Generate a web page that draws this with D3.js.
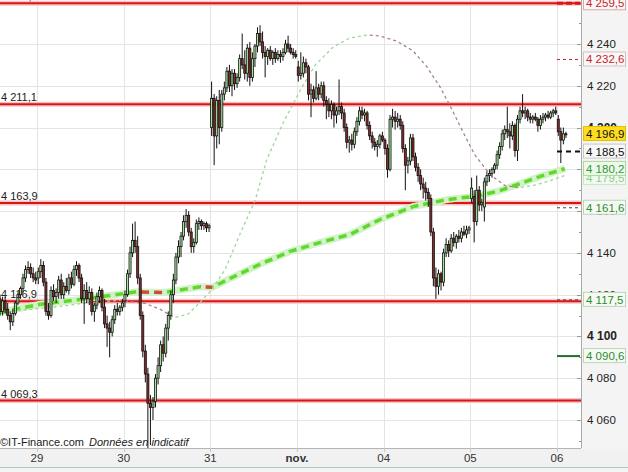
<!DOCTYPE html>
<meta charset="utf-8">
<style>
body { margin: 0; background: #f4f4f4; }
text { font-family: "Liberation Sans", Arial, sans-serif; }
</style>
<body>
<div id="chart"></div>
</body>
<script src="https://cdn.jsdelivr.net/npm/d3@7"></script>
<script>

// 15 min candles, [open, high, low, close], one array per session
var oct28 = [ // first visible slot is 19
  [4118,4120,4110,4112],[4112,4119,4110,4117],[4117,4119,4111,4113],[4113,4116,4108,4110],
  [4110,4112,4103,4107],[4107,4113,4105,4111],[4111,4117,4110,4116],[4116,4121,4115,4120],
  [4120,4124,4118,4123],[4123,4130,4121,4128],[4128,4134,4126,4132],[4132,4136,4130,4133],
  [4133,4135,4128,4130],[4130,4133,4126,4128],[4128,4131,4125,4127]];
var oct29 = [
  [4128,4133,4125,4131],[4131,4137,4128,4134],[4134,4136,4124,4126],[4126,4128,4110,4112],
  [4112,4116,4108,4110],[4110,4124,4109,4122],[4122,4125,4117,4119],[4119,4123,4116,4121],
  [4121,4129,4118,4127],[4127,4130,4118,4120],[4120,4126,4118,4124],[4124,4128,4121,4122],
  [4122,4130,4120,4128],[4128,4131,4123,4125],[4125,4134,4124,4132],[4132,4136,4129,4134],
  [4134,4135,4126,4128],[4128,4130,4116,4118],[4118,4125,4106,4122],[4122,4126,4116,4118],
  [4118,4124,4115,4121],[4121,4123,4110,4112],[4112,4116,4107,4115],[4115,4121,4113,4119],
  [4119,4124,4116,4122],[4122,4123,4112,4114],[4114,4118,4104,4106],[4106,4110,4095,4104],
  [4104,4107,4090,4102],[4102,4110,4100,4108],[4108,4115,4106,4113],[4113,4116,4110,4112],
  [4112,4115,4110,4114],[4114,4118,4112,4116]];
var oct30 = [
  [4117,4122,4114,4120],[4120,4132,4119,4130],[4130,4143,4128,4140],[4140,4154,4138,4146],
  [4146,4155,4140,4143],[4143,4148,4125,4128],[4128,4130,4108,4110],[4110,4112,4090,4093],
  [4093,4096,4078,4082],[4082,4085,4046,4068],[4068,4072,4048,4066],[4066,4071,4060,4069],
  [4069,4082,4066,4080],[4080,4090,4077,4086],[4086,4098,4083,4096],[4096,4100,4088,4092],
  [4092,4106,4090,4104],[4104,4112,4098,4110],[4110,4122,4108,4120],[4120,4130,4116,4127],
  [4127,4140,4125,4138],[4138,4146,4135,4143],[4143,4150,4138,4148],[4148,4158,4146,4155],
  [4155,4161,4152,4158],[4158,4160,4148,4150],[4150,4152,4140,4143],[4143,4147,4140,4145],
  [4145,4156,4144,4154],[4154,4157,4151,4155],[4155,4156,4151,4153],[4153,4155,4151,4154],
  [4154,4155,4150,4152],[4152,4154,4150,4153]];
var oct31 = [
  [4200,4222,4196,4214],[4214,4216,4182,4196],[4196,4215,4190,4213],[4213,4218,4192,4200],
  [4200,4218,4198,4216],[4216,4222,4213,4219],[4219,4229,4217,4227],[4227,4230,4217,4220],
  [4220,4228,4215,4226],[4226,4228,4218,4221],[4221,4226,4219,4224],[4224,4235,4222,4233],
  [4233,4245,4228,4230],[4230,4237,4223,4226],[4226,4240,4222,4238],[4238,4241,4220,4224],
  [4224,4236,4222,4233],[4233,4240,4229,4239],[4239,4248,4236,4245],[4245,4249,4239,4241],
  [4241,4246,4233,4236],[4236,4239,4224,4234],[4234,4238,4230,4237],[4237,4239,4232,4233],
  [4233,4237,4230,4236],[4236,4238,4231,4233],[4233,4237,4232,4235],[4235,4237,4231,4234],
  [4234,4238,4232,4236],[4236,4242,4235,4240],[4240,4244,4236,4238],[4238,4240,4235,4236],
  [4236,4238,4233,4235],[4235,4237,4233,4234]];
var nov01 = [
  [4229,4232,4222,4225],[4225,4236,4223,4226],[4226,4234,4224,4231],[4231,4233,4226,4229],
  [4229,4230,4213,4216],[4216,4221,4205,4218],[4218,4220,4212,4214],[4214,4227,4213,4219],
  [4219,4221,4213,4216],[4216,4222,4214,4220],[4220,4222,4210,4213],[4213,4215,4204,4211],
  [4211,4214,4205,4208],[4208,4213,4204,4211],[4211,4212,4200,4206],[4206,4210,4202,4208],
  [4208,4223,4206,4210],[4210,4212,4204,4207],[4207,4209,4198,4200],[4200,4202,4190,4193],
  [4193,4196,4188,4194],[4194,4197,4189,4192],[4192,4200,4190,4198],[4198,4205,4196,4203],
  [4203,4210,4201,4208],[4208,4210,4204,4206],[4206,4209,4203,4207],[4207,4208,4199,4201],
  [4201,4203,4194,4196],[4196,4198,4190,4193],[4193,4195,4189,4191],[4191,4194,4186,4192],
  [4192,4197,4190,4196],[4196,4198,4193,4194]];
var nov04 = [
  [4194,4195,4187,4190],[4190,4192,4176,4180],[4180,4206,4179,4204],[4204,4209,4200,4205],
  [4205,4208,4199,4203],[4203,4207,4200,4204],[4204,4206,4199,4201],[4201,4203,4188,4190],
  [4190,4192,4170,4182],[4182,4186,4178,4184],[4184,4197,4182,4195],[4195,4197,4184,4186],
  [4186,4188,4179,4181],[4181,4183,4174,4177],[4177,4180,4170,4173],[4173,4176,4166,4171],
  [4171,4174,4165,4169],[4169,4171,4162,4166],[4166,4168,4148,4150],[4150,4152,4124,4128],
  [4128,4133,4118,4124],[4124,4132,4120,4130],[4130,4131,4122,4126],[4126,4142,4124,4140],
  [4140,4147,4138,4144],[4144,4146,4138,4141],[4141,4149,4140,4147],[4147,4150,4143,4145],
  [4145,4149,4142,4148],[4148,4151,4145,4147],[4147,4152,4145,4150],[4150,4153,4148,4149],
  [4149,4153,4147,4151],[4151,4153,4149,4152]];
var nov05 = [
  [4166,4176,4164,4171],[4167,4170,4145,4155],[4155,4177,4153,4170],[4170,4172,4160,4163],
  [4163,4166,4160,4164],[4162,4176,4155,4174],[4174,4179,4172,4177],[4177,4180,4174,4178],
  [4178,4181,4176,4180],[4180,4183,4178,4182],[4182,4189,4180,4187],[4187,4193,4185,4191],
  [4191,4199,4189,4197],[4197,4201,4194,4199],[4199,4210,4195,4198],[4198,4202,4190,4196],
  [4196,4203,4194,4201],[4201,4202,4186,4189],[4189,4206,4184,4204],[4204,4210,4202,4208],
  [4208,4216,4205,4207],[4207,4210,4204,4208],[4208,4209,4203,4205],[4205,4207,4202,4204],
  [4204,4206,4202,4205],[4205,4207,4203,4204],[4204,4205,4198,4201],[4201,4206,4199,4204],
  [4204,4207,4202,4205],[4205,4207,4203,4206],[4206,4208,4204,4205],[4205,4208,4204,4207],
  [4207,4209,4205,4208],[4208,4210,4206,4207]];
var nov06 = [
  [4204,4206,4196,4198],[4198,4200,4183,4194],[4194,4200,4192,4197],[4197,4198,4195,4196.9]];

var sessions = [oct28, oct29, oct30, oct31, nov01, nov04, nov05, nov06];
var sessionFirstSlot = [19, 0, 0, 0, 0, 0, 0, 0];
var dayLabels = ["29", "30", "31", "nov.", "04", "05", "06"];

// short moving average (session time, value)
var maShortT = [0.57,0.92,1.27,1.61,1.96,2.25,2.42,2.59,2.74,2.88,3.02,3.17,3.34,3.52,3.65,3.84,4.04,4.21,
  4.42,4.61,4.81,4.96,5.15,5.34,5.50,5.65,5.79,5.92,6.05,6.23,6.40,6.57,6.77,6.92,7.09];
var maShortV = [4111.5,4113,4114.4,4116.3,4117.3,4115.8,4113,4109,4110.6,4116.3,4122.5,4132,4148.8,4165.5,
  4184.6,4202.3,4218,4230,4238.6,4242.9,4244.3,4243.8,4241.4,4236.7,4229,4219.5,4208.5,4197.5,4187,4177.4,
  4172.2,4171.2,4172.7,4174.6,4177];
// long moving average
var maLongT = [0.57,0.80,1.04,1.50,1.84,2.15,2.45,2.71,2.88,3.02,3.23,3.57,3.92,4.27,4.61,4.96,5.34,5.73,
  6.11,6.34,6.57,6.80,7.09];
var maLongV = [4111.5,4113.5,4115.4,4117.7,4119.6,4121.4,4121.0,4122.6,4123.8,4123.5,4127.8,4134.5,4140.7,
  4145,4148.8,4156,4162.2,4165.5,4167.4,4169.8,4173.1,4176.5,4180.3];

var levels = [4259.5, 4211.1, 4163.9, 4116.9, 4069.3];
var yTicks = [4060, 4080, 4100, 4120, 4140, 4160, 4180, 4200, 4220, 4240, 4260];

var markValues = [4259.5, 4232.6, 4196.9, 4188.5, 4180.2, 4179.5, 4161.6, 4117.5, 4090.6];
var markKinds = ["resist", "target", "last", "pivot", "maLong", "maShort", "support", "support", "stop"];

var width = 628, height = 472,
    plotRight = 581, plotBottom = 448,
    slotsPerDay = 34;

var fr = d3.formatLocale({decimal: ",", thousands: " ", grouping: [3], currency: ["", " €"]});
var fmt1 = fr.format(",.1f"), fmt0 = fr.format(",d");

var x = d3.scaleLinear().domain([1, 7]).range([37, 557]);
var y = d3.scaleLinear().domain([4060, 4240]).range([420, 44]);
var step = x(1) - x(1 - 1 / slotsPerDay);

var candles = [];
sessions.forEach(function(s, d) {
  s.forEach(function(c, i) {
    candles.push({t: d + (sessionFirstSlot[d] + i + 0.5) / slotsPerDay, o: c[0], h: c[1], l: c[2], c: c[3]});
  });
});

var svg = d3.select("#chart").append("svg")
    .attr("width", width)
    .attr("height", height);

svg.append("defs").append("clipPath").attr("id", "plot")
  .append("rect").attr("width", plotRight).attr("height", plotBottom);

svg.append("rect").attr("width", plotRight).attr("height", plotBottom).attr("fill", "#fff");

var plot = svg.append("g").attr("clip-path", "url(#plot)");

// grid
plot.selectAll(".hgrid").data(yTicks).enter().append("line")
    .attr("x1", 0).attr("x2", plotRight)
    .attr("y1", function(d) { return Math.round(y(d)) + 0.5; })
    .attr("y2", function(d) { return Math.round(y(d)) + 0.5; })
    .attr("stroke", "#e4e4e4");
plot.selectAll(".vgrid").data(d3.range(1, 8)).enter().append("line")
    .attr("y1", 0).attr("y2", plotBottom)
    .attr("x1", function(d) { return Math.round(x(d)) + 0.5; })
    .attr("x2", function(d) { return Math.round(x(d)) + 0.5; })
    .attr("stroke", "#e4e4e4");

// copyright
var copy = plot.append("text").attr("x", 0).attr("y", 446)
    .style("font-size", "11px").attr("fill", "#222");
copy.append("tspan").text("\u00a9IT-Finance.com");
copy.append("tspan").attr("x", 89).style("font-style", "italic").text("Données en indicatif");

// support / resistance lines
plot.selectAll(".lvlhalo").data(levels).enter().append("line")
    .attr("x1", 0).attr("x2", plotRight)
    .attr("y1", function(d) { return y(d); }).attr("y2", function(d) { return y(d); })
    .attr("stroke", "#f5c4c4").attr("stroke-width", 5);
plot.selectAll(".lvl").data(levels).enter().append("line")
    .attr("x1", 0).attr("x2", plotRight)
    .attr("y1", function(d) { return y(d); }).attr("y2", function(d) { return y(d); })
    .attr("stroke", "#dd1414").attr("stroke-width", 2);

// dashed line coloured by slope, dash pattern kept continuous across segments
function slopeLine(g, ts, vs, upColor, downColor, w, dash) {
  var line = d3.line().x(function(p) { return x(p[0]); }).y(function(p) { return y(p[1]); });
  var offset = 0;
  for (var i = 1; i < ts.length; i++) {
    var a = [ts[i - 1], vs[i - 1]], b = [ts[i], vs[i]];
    g.append("path")
        .attr("d", line([a, b]))
        .attr("fill", "none")
        .attr("stroke", b[1] >= a[1] ? upColor : downColor)
        .attr("stroke-width", w)
        .attr("stroke-dasharray", dash)
        .attr("stroke-dashoffset", offset);
    offset += Math.hypot(x(b[0]) - x(a[0]), y(b[1]) - y(a[1]));
  }
}

var longPts = maLongT.map(function(t, i) { return [t, maLongV[i]]; });
plot.append("path")
    .attr("d", d3.line().x(function(p) { return x(p[0]); }).y(function(p) { return y(p[1]); })(longPts))
    .attr("fill", "none").attr("stroke", "#d2f2c8").attr("stroke-width", 7);
slopeLine(plot, maLongT, maLongV, "#5ed82a", "#d24a3a", 3.5, "8,5");
slopeLine(plot, maShortT, maShortV, "#9ad89a", "#a8808c", 1.3, "3,3");

// candles
var cg = plot.selectAll(".candle").data(candles).enter().append("g");
cg.append("line")
    .attr("x1", function(d) { return x(d.t); }).attr("x2", function(d) { return x(d.t); })
    .attr("y1", function(d) { return y(d.h); }).attr("y2", function(d) { return y(d.l); })
    .attr("stroke", "#111").attr("stroke-width", 1);
cg.append("rect")
    .attr("x", function(d) { return x(d.t) - step * 0.4; })
    .attr("width", step * 0.8)
    .attr("y", function(d) { return y(Math.max(d.o, d.c)); })
    .attr("height", function(d) { return Math.max(1, Math.abs(y(d.o) - y(d.c))); })
    .attr("fill", function(d) { return d.c >= d.o ? "#a8e6a0" : "#8a2a2a"; })
    .attr("stroke", "#111").attr("stroke-width", 0.8);

// level labels on the left
plot.selectAll(".lvltxt").data(levels).enter().append("text")
    .attr("x", 1).attr("y", function(d) { return y(d) - 3; })
    .style("font-size", "11px").attr("fill", "#222")
    .text(function(d) { return fmt1(d); });

// plot frame
svg.append("line").attr("x1", 0).attr("x2", plotRight).attr("y1", plotBottom + 0.5).attr("y2", plotBottom + 0.5)
    .attr("stroke", "#b4b4b4");
svg.append("line").attr("x1", plotRight + 0.5).attr("x2", plotRight + 0.5).attr("y1", 0).attr("y2", plotBottom)
    .attr("stroke", "#a8a8a8");

// x axis band
svg.append("rect").attr("x", 0).attr("y", plotBottom + 1).attr("width", width).attr("height", 18).attr("fill", "#f1f1f1");
svg.append("line").attr("x1", 0).attr("x2", width).attr("y1", 467.5).attr("y2", 467.5).attr("stroke", "#a9c9ba");
svg.selectAll(".xtick").data(d3.range(1, 8)).enter().append("line")
    .attr("x1", function(d) { return Math.round(x(d)) + 0.5; })
    .attr("x2", function(d) { return Math.round(x(d)) + 0.5; })
    .attr("y1", plotBottom).attr("y2", plotBottom + 4).attr("stroke", "#c8c8c8");
svg.selectAll(".xlab").data(d3.range(1, 8)).enter().append("text")
    .attr("x", function(d) { return x(d); }).attr("y", 462)
    .attr("text-anchor", "middle")
    .style("font-size", "11.5px")
    .style("font-weight", function(d, i) { return dayLabels[i] === "nov." ? "bold" : "normal"; })
    .attr("fill", "#333")
    .text(function(d, i) { return dayLabels[i]; });

// y axis (right)
var minor = d3.range(4050, 4270, 10);
svg.selectAll(".ytick").data(minor).enter().append("line")
    .attr("x1", function(d) { return d % 20 === 0 ? plotRight - 4 : plotRight - 2; })
    .attr("x2", plotRight)
    .attr("y1", function(d) { return Math.round(y(d)) + 0.5; })
    .attr("y2", function(d) { return Math.round(y(d)) + 0.5; })
    .attr("stroke", "#999");
svg.selectAll(".ylab").data(yTicks).enter().append("text")
    .attr("x", 587).attr("y", function(d) { return y(d) + 4; })
    .style("font-size", function(d) { return d % 100 === 0 ? "12px" : "11.5px"; })
    .style("font-weight", function(d) { return d % 100 === 0 ? "bold" : "normal"; })
    .attr("fill", "#222")
    .text(function(d) { return fmt0(d); });

// value markers on the right
var markStyle = {
  resist:  {text: "#cc2222", fill: "#f8f8f8", border: "#dca8a8", line: "#dd1414", lw: 3, dash: "6,3"},
  target:  {text: "#cc2222", fill: "#f8f8f8", border: "#d8c0c0", line: "#cc2222", lw: 1, dash: "3,3"},
  last:    {text: "#111",    fill: "#ffdc1e", border: "#e0c000", line: null},
  pivot:   {text: "#111",    fill: "#f8f8f8", border: "#c8c8c8", line: "#111", lw: 2, dash: "5,4"},
  maLong:  {text: "#2f9a2f", fill: "#eef8ec", border: "#a8d8a0", line: null},
  maShort: {text: "#8ccc8c", fill: "#f2faf0", border: "#c8e8c0", line: null},
  support: {text: "#2f8a2f", fill: "#f6faf4", border: "#b8d8b8", line: "#444", lw: 1, dash: "3,3"},
  stop:    {text: "#2f8a2f", fill: "#f6faf4", border: "#b8d8b8", line: "#2c6a2c", lw: 2, dash: null}
};

var marks = markValues.map(function(v, i) { return {v: v, kind: markKinds[i], y: y(v)}; });
// push overlapping labels down
for (var i = 1; i < marks.length; i++) {
  if (marks[i].y < marks[i - 1].y + 9) marks[i].y = marks[i - 1].y + 9;
}

var mg = svg.selectAll(".mark").data(marks.slice().reverse()).enter().append("g");
mg.filter(function(d) { return markStyle[d.kind].line; }).append("line")
    .attr("x1", 557).attr("x2", plotRight - 1)
    .attr("y1", function(d) { return y(d.v); }).attr("y2", function(d) { return y(d.v); })
    .attr("stroke", function(d) { return markStyle[d.kind].line; })
    .attr("stroke-width", function(d) { return markStyle[d.kind].lw; })
    .attr("stroke-dasharray", function(d) { return markStyle[d.kind].dash; });
mg.append("rect")
    .attr("x", 583.5).attr("width", 42).attr("height", 14)
    .attr("y", function(d) { return d.y - 7.5; })
    .attr("fill", function(d) { return markStyle[d.kind].fill; })
    .attr("stroke", function(d) { return markStyle[d.kind].border; });
mg.append("text")
    .attr("x", 586).attr("y", function(d) { return d.y + 4; })
    .style("font-size", "11.5px")
    .attr("fill", function(d) { return markStyle[d.kind].text; })
    .text(function(d) { return fmt1(d.v); });

</script>
